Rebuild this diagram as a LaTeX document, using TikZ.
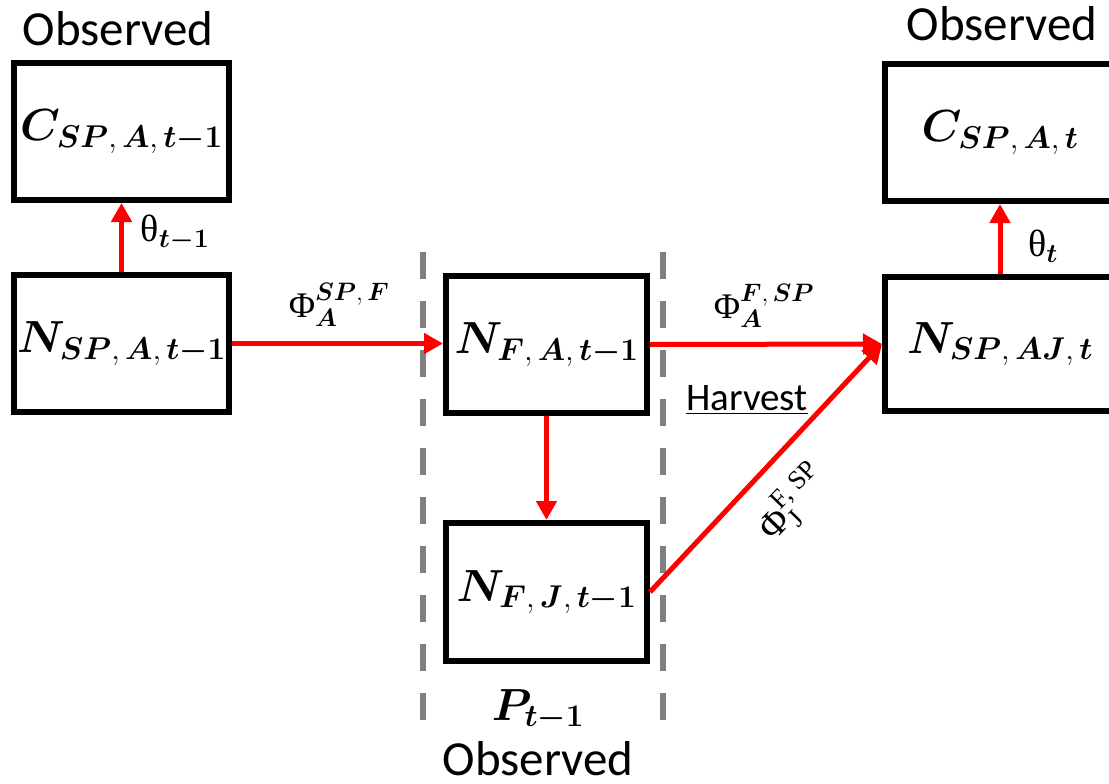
\RequirePackage{fix-cm}
\documentclass[tikz,border=0pt]{standalone}
\usepackage{amsmath,bm}
\usepackage[no-math]{fontspec}
\setmainfont{Carlito}
\newfontfamily\grk{Liberation Serif}
\usetikzlibrary{arrows.meta}
\tikzset{
  box/.style={draw, line width=6pt, minimum width=215pt, minimum height=137pt, inner sep=0pt, font=\fontsize{45}{50}\selectfont},
  redarrow/.style={draw=red, line width=5pt, -{Triangle[length=19pt,width=20pt]}},
  sep/.style={draw={rgb,255:red,128;green,128;blue,128}, line width=6pt, dash pattern=on 27pt off 22pt},
  obs/.style={font=\fontsize{49}{52}\selectfont, anchor=base, inner sep=0pt},
  lbl/.style={font=\fontsize{38}{44}\selectfont, inner sep=0pt},
  philbl/.style={font=\fontsize{36}{40}\selectfont, inner sep=0pt}
}
\begin{document}
\begin{tikzpicture}[x=1pt,y=-1pt]
\useasboundingbox (0,0) rectangle (1109,784);
\clip (0,0) rectangle (1109,784);

% separators
\coordinate (s1a) at (423,252);
\coordinate (s1b) at (423,720);
\coordinate (s2a) at (663,252);
\coordinate (s2b) at (663,720);
\draw[sep] (s1a) -- (s1b);
\draw[sep] (s2a) -- (s2b);

% boxes
\node[box] (cspa1) at (121.5,131.5) {$\bm{C}_{\bm{SP},\,\bm{A},\,\bm{t-1}}$};
\node[box] (nspa1) at (121.5,343.5) {$\bm{N}_{\bm{SP},\,\bm{A},\,\bm{t-1}}$};
\node[box, minimum width=201pt] (nfa1) at (546.5,344.5) {$\bm{N}_{\bm{F},\,\bm{A},\,\bm{t-1}}$};
\node[box, minimum width=201pt, minimum height=138pt] (nfj1) at (546.5,592) {$\bm{N}_{\bm{F},\,\bm{J},\,\bm{t-1}}$};
\node[box, minimum width=230pt] (cspat) at (1000,132.5) {$\bm{C}_{\bm{SP},\,\bm{A},\,\bm{t}}$};
\node[box, minimum width=230pt, minimum height=134pt] (nspajt) at (1000,344) {$\bm{N}_{\bm{SP},\,\bm{AJ},\,\bm{t}}$};

% arrows
\draw[redarrow] (nspa1.north) -- (cspa1.south);
\draw[redarrow] (nspa1.east) -- (nspa1.east -| nfa1.west);
\draw[redarrow] (nfa1.east) -- (nspajt.west);
\draw[redarrow] (nfa1.south) -- (nfj1.north);
\draw[redarrow] (nfj1.east) -- (nspajt.west);
\draw[redarrow] (nspajt.north) -- (cspat.south);

% labels
\node[lbl] (th1) at (175,233) {$\text{\grk θ}_{\bm{t-1}}$};
\node[lbl] (th2) at (1043,246) {$\text{\grk θ}_{\bm{t}}$};
\node[philbl] (phi1) at (339,305) {$\text{\grk Φ}_{\bm{A}}^{\bm{SP},\,\bm{F}}$};
\node[philbl] (phi2) at (764,306) {$\text{\grk Φ}_{\bm{A}}^{\bm{F},\,\bm{SP}}$};
\node[font=\fontsize{38}{42}\selectfont, inner sep=0pt, rotate=46] (phi3) at (793,503) {$\text{\grk Φ}^{\text{\grk F, SP}}_{\text{\grk J}}$};
\node[font=\fontsize{39}{42}\selectfont, inner sep=0pt, anchor=base] (harv) at (747,410) {\underline{Harvest}};

% observed
\node[obs] (ob1) at (118,46) {Observed};
\node[obs] (ob2) at (1002,41) {Observed};
\node[obs] (ob3) at (538,775) {Observed};
\node[font=\fontsize{45}{50}\selectfont, anchor=base, inner sep=0pt] (pt) at (538,720) {$\bm{P}_{\bm{t-1}}$};
\end{tikzpicture}
\end{document}
